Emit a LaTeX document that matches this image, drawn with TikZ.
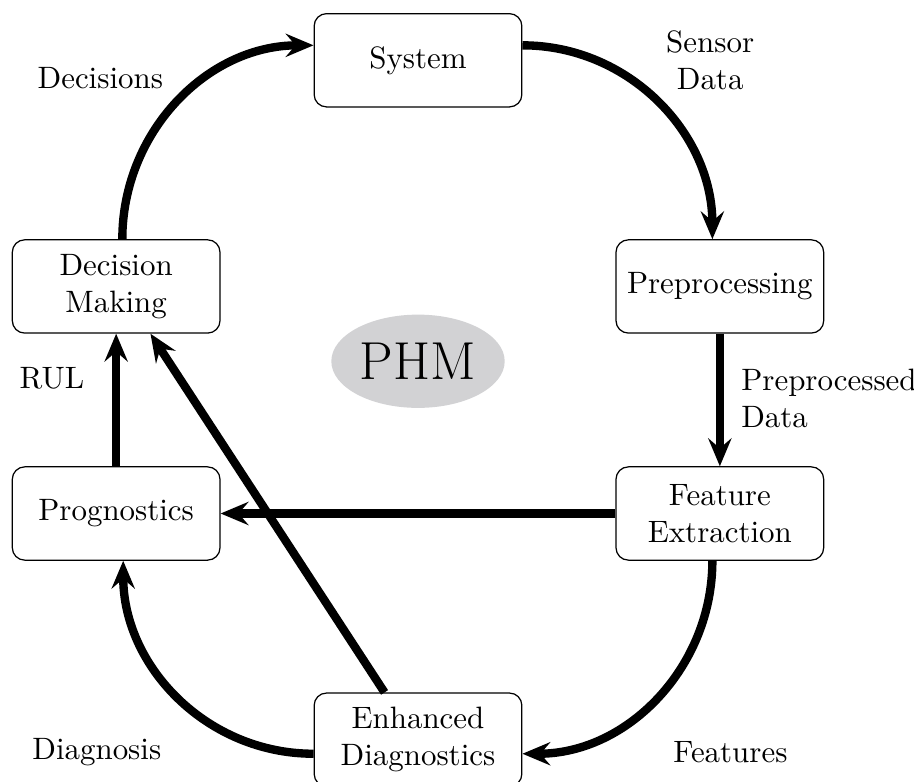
\documentclass[tikz,border=0pt]{standalone}
\usepackage{tikz}
\usetikzlibrary{positioning,calc,arrows.meta,shapes.geometric}
\definecolor{phmgray}{RGB}{210,210,212}

\begin{document}
\begin{tikzpicture}[block/.style={draw,rounded corners=4pt,thin,align=center,minimum width=2.36cm,minimum height=1.06cm},
		flow/.style={line width=2.7pt,-{Stealth[length=9pt,width=7.5pt,inset=3.2pt]}}]
%		\draw[lightgray] (-5,-5) grid (6,5);
		\useasboundingbox (-4.75,-4.341) rectangle (5.636,4.545);
		\node[block] (sys) at (0,3.86) {System};
		\node[block] (pre) at (3.43,1.29) {Preprocessing};
		\node[block] (fe) at (3.43,-1.29) {Feature\\Extraction};
		\node[block] (enh) at (0,-3.86) {Enhanced\\Diagnostics};
		\node[block] (prog) at (-3.43,-1.29) {Prognostics};
		\node[block] (dm) at (-3.43,1.29) {Decision\\Making};
		\node[ellipse,fill=phmgray,minimum width=1.97cm,minimum height=1.06cm,inner sep=0pt,font=\LARGE] (phm) at (0,0.44) {PHM};
		% labels
		\node (ldec) at (-3.61,3.66) {Decisions};
		\node[align=center] (lsen) at (3.32,3.86) {Sensor\\Data};
		\node[align=left,anchor=west] (lpre) at (3.55,0.02) {Preprocessed\\Data};
		\node (lrul) at (-4.16,0.25) {RUL};
		\node (ldia) at (-3.65,-4.0) {Diagnosis};
		\node (lfea) at (3.55,-4.0) {Features};
		% arrows
		\draw[flow] ([xshift=0.07cm]dm.north) to[out=90,in=180] ([yshift=0.17cm]sys.west);
		\draw[flow] ([yshift=0.17cm]sys.east) to[out=0,in=90] ([xshift=-0.085cm]pre.north);
		\draw[flow] (pre.south) -- (fe.north);
		\draw[flow] ([xshift=-0.085cm]fe.south) to[out=-90,in=0] ([yshift=-0.16cm]enh.east);
		\draw[flow] ([yshift=-0.16cm]enh.west) to[out=180,in=-90] ([xshift=0.08cm]prog.south);
		\draw[flow] (prog.north) -- (dm.south);
		\draw[flow] (fe.west) -- (prog.east);
		\draw[flow] ([xshift=-0.38cm]enh.north) -- ([xshift=0.39cm]dm.south);
	\end{tikzpicture}
\end{document}
